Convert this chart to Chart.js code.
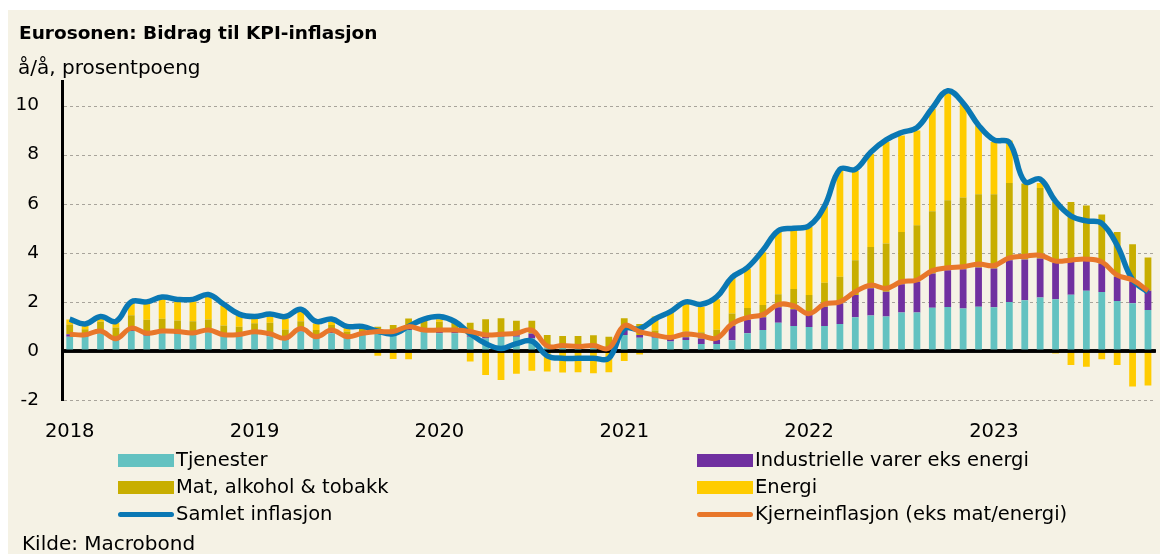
<!DOCTYPE html>
<html>
<head>
<meta charset="utf-8">
<script src="https://cdn.jsdelivr.net/npm/chart.js@4.4.1/dist/chart.umd.min.js"></script>
<style>
  html, body { margin:0; padding:0; background:#ffffff; }
  body { width:1160px; height:554px; position:relative; overflow:hidden; font-family:'DejaVu Sans',sans-serif; color:#000; }
  #bg { position:absolute; left:8px; top:10px; width:1152px; height:544px; background:#f5f2e5; }
  #c { position:absolute; left:0; top:0; }
  .t { position:absolute; white-space:nowrap; line-height:24px; }
  #title { left:19px; top:21px; font-size:18.5px; font-weight:700; }
  #sub { left:18px; top:55px; font-size:20px; }
  #src { left:22px; top:531px; font-size:20px; }
  .sw { position:absolute; width:56px; }
  .lg { position:absolute; font-size:19.5px; line-height:24px; white-space:nowrap; }
</style>
</head>
<body>
<div id="bg"></div>
<canvas id="c" width="1160" height="554"></canvas>
<div class="t" id="title">Eurosonen: Bidrag til KPI-inflasjon</div>
<div class="t" id="sub">å/å, prosentpoeng</div>
<div id="legend"></div>
<div class="t" id="src">Kilde: Macrobond</div>
<script>
// ---- data (monthly, Jan 2018 - Nov 2023) ----
const years = ['2018','2019','2020','2021','2022','2023'];
const tickLabels = ['2018','2019','2020','2021','2022','2023'];
const yTicks = [-2, 0, 2, 4, 6, 8, 10];

const tjenester = [
  0.58,0.58,0.72,0.45,0.81,0.62,0.72,0.69,0.65,0.76,0.60,0.61,
  0.69,0.60,0.45,0.79,0.51,0.72,0.51,0.65,0.72,0.72,0.85,0.85,
  0.72,0.72,0.58,0.51,0.58,0.58,0.51,0.15,0.20,0.15,0.18,0.10,
  0.65,0.54,0.54,0.38,0.45,0.28,0.28,0.43,0.72,0.85,1.15,1.02,
  0.98,1.02,1.10,1.37,1.44,1.40,1.57,1.57,1.76,1.79,1.73,1.80,
  1.78,1.99,2.07,2.18,2.11,2.29,2.45,2.40,2.03,1.94,1.67
];
const industri = [
  0.10,0.08,0.09,0.05,0.12,0.10,0.09,0.10,0.08,0.09,0.06,0.06,
  0.09,0.10,0.07,0.12,0.07,0.10,0.08,0.07,0.07,0.07,0.07,0.08,
  0.10,0.08,0.05,0.06,0.05,0.06,0.20,0.02,0.02,0.03,0.03,0.02,
  0.27,0.11,0.07,0.20,0.11,0.23,0.18,0.60,0.55,0.52,0.63,0.68,
  0.48,0.78,0.84,0.91,1.11,1.01,1.15,1.25,1.40,1.50,1.60,1.60,
  1.58,1.71,1.66,1.59,1.48,1.37,1.25,1.16,0.99,0.88,0.78
];
const mat = [
  0.40,0.22,0.38,0.45,0.52,0.55,0.50,0.45,0.48,0.43,0.38,0.32,
  0.35,0.45,0.35,0.30,0.27,0.24,0.20,0.20,0.20,0.27,0.40,0.30,
  0.37,0.35,0.52,0.72,0.70,0.59,0.52,0.48,0.39,0.43,0.43,0.46,
  0.41,0.45,0.22,0.07,0.23,0.25,0.40,0.50,0.48,0.50,0.53,0.82,
  0.82,0.98,1.08,1.42,1.69,1.97,2.13,2.30,2.53,2.85,2.92,2.98,
  3.02,3.14,3.09,2.87,2.48,2.41,2.23,2.00,1.83,1.53,1.36
];
const energi = [
  0.20,0.20,0.20,0.20,0.55,0.70,0.85,0.80,0.80,0.95,0.80,0.45,
  0.25,0.30,0.45,0.45,0.27,0.13,0.20,-0.07,-0.20,-0.33,-0.34,0.10,
  0.10,0.05,-0.43,-0.98,-1.18,-0.93,-0.81,-0.84,-0.88,-0.87,-0.91,-0.87,
  -0.41,-0.15,0.57,0.95,1.15,1.04,1.25,1.47,1.60,2.15,2.55,2.40,
  2.77,3.11,4.36,3.63,3.79,4.13,3.93,3.86,4.17,4.36,3.82,2.81,
  2.13,1.74,-0.07,0.20,-0.10,-0.57,-0.64,-0.34,-0.57,-1.45,-1.41
];
const samlet = [
  1.3,1.1,1.4,1.2,2.0,2.0,2.2,2.1,2.1,2.3,1.9,1.5,
  1.4,1.5,1.4,1.7,1.2,1.3,1.0,1.0,0.8,0.7,1.0,1.3,
  1.4,1.2,0.7,0.3,0.1,0.3,0.4,-0.2,-0.3,-0.3,-0.3,-0.3,
  0.9,0.9,1.3,1.6,2.0,1.9,2.2,3.0,3.4,4.1,4.9,5.0,
  5.1,5.9,7.4,7.4,8.1,8.6,8.9,9.1,9.9,10.6,10.1,9.2,
  8.6,8.5,6.9,7.0,6.1,5.5,5.3,5.2,4.3,2.9,2.4
];
const kjerne = [
  0.68,0.66,0.81,0.50,0.93,0.72,0.81,0.79,0.73,0.85,0.66,0.67,
  0.78,0.70,0.52,0.91,0.58,0.85,0.58,0.72,0.79,0.79,0.99,0.85,
  0.85,0.85,0.79,0.65,0.68,0.72,0.85,0.20,0.22,0.18,0.22,0.11,
  1.03,0.79,0.65,0.55,0.69,0.62,0.52,1.10,1.36,1.48,1.89,1.84,
  1.52,1.91,2.00,2.41,2.68,2.55,2.82,2.89,3.27,3.39,3.43,3.54,
  3.48,3.79,3.86,3.90,3.66,3.70,3.74,3.63,3.09,2.89,2.45
];

// month categories
const months = [];
for (const y of years) for (let m = 1; m <= 12; m++) months.push(y + '-' + String(m).padStart(2,'0'));
const labels = months.slice(0, tjenester.length);

const C = {
  teal:'#63c2c1', purple:'#7030a0', olive:'#c8ae00', yellow:'#ffcc00',
  blue:'#0a78b4', orange:'#e8772a'
};
const FONT = 'DejaVu Sans';

// legend (HTML)
const legendItems = [
  {text:'Tjenester', color:C.teal, kind:'box', col:0, row:0},
  {text:'Industrielle varer eks energi', color:C.purple, kind:'box', col:1, row:0},
  {text:'Mat, alkohol & tobakk', color:C.olive, kind:'box', col:0, row:1},
  {text:'Energi', color:C.yellow, kind:'box', col:1, row:1},
  {text:'Samlet inflasjon', color:C.blue, kind:'line', col:0, row:2},
  {text:'Kjerneinflasjon (eks mat/energi)', color:C.orange, kind:'line', col:1, row:2}
];
const lg = document.getElementById('legend');
const colX = [118, 697], rowY = [460, 487, 514];
legendItems.forEach(it => {
  const sw = document.createElement('div');
  sw.className = 'sw';
  const h = it.kind === 'box' ? 13 : 5;
  sw.style.left = colX[it.col] + 'px';
  sw.style.top = (rowY[it.row] - h/2) + 'px';
  sw.style.height = h + 'px';
  sw.style.background = it.color;
  if (it.kind === 'line') sw.style.borderRadius = '3px';
  lg.appendChild(sw);
  const tx = document.createElement('div');
  tx.className = 'lg';
  tx.textContent = it.text;
  tx.style.left = (colX[it.col] + 58) + 'px';
  tx.style.top = (rowY[it.row] - 12) + 'px';
  lg.appendChild(tx);
});

// dashed horizontal grid lines at the y ticks
const dashedGrid = {
  id:'dashedGrid',
  beforeDatasetsDraw(chart) {
    const {ctx, chartArea, scales:{y}} = chart;
    ctx.save();
    ctx.strokeStyle = '#a8a49b';
    ctx.lineWidth = 1;
    ctx.setLineDash([3,3]);
    yTicks.forEach(v => {
      if (v === 0) return;
      const py = Math.round(y.getPixelForValue(v)) + 0.5;
      ctx.beginPath();
      ctx.moveTo(chartArea.left + 2, py);
      ctx.lineTo(chartArea.right, py);
      ctx.stroke();
    });
    ctx.restore();
  }
};
// solid zero line over the bars
const zeroLine = {
  id:'zeroLine',
  afterDatasetDraw(chart, args) {
    if (args.meta.type !== 'bar') return;
    const {ctx, chartArea, scales:{y}} = chart;
    const py = y.getPixelForValue(0);
    ctx.save();
    ctx.strokeStyle = '#000';
    ctx.lineWidth = 3;
    ctx.beginPath();
    ctx.moveTo(chartArea.left, py);
    ctx.lineTo(chartArea.right, py);
    ctx.stroke();
    ctx.restore();
  }
};

const barCommon = {type:'bar', stack:'bars', order:2, barPercentage:0.44, categoryPercentage:1.0, borderWidth:0};
new Chart(document.getElementById('c'), {
  data: {
    labels,
    datasets: [
      {...barCommon, label:'Tjenester', data:tjenester, backgroundColor:C.teal},
      {...barCommon, label:'Industrielle varer eks energi', data:industri, backgroundColor:C.purple},
      {...barCommon, label:'Mat, alkohol & tobakk', data:mat, backgroundColor:C.olive},
      {...barCommon, label:'Energi', data:energi, backgroundColor:C.yellow},
      {type:'line', label:'Samlet inflasjon', data:samlet, stack:'s1', order:1, borderColor:C.blue, backgroundColor:C.blue, borderWidth:5.5, pointRadius:0, tension:0.4, fill:false},
      {type:'line', label:'Kjerneinflasjon (eks mat/energi)', data:kjerne, stack:'s2', order:0, borderColor:C.orange, backgroundColor:C.orange, borderWidth:5, pointRadius:0, tension:0.4, fill:false}
    ]
  },
  options: {
    responsive:false,
    animation:false,
    devicePixelRatio:1,
    layout:{padding:{left:0, right:2, top:81, bottom:94}},
    plugins:{legend:{display:false}, tooltip:{enabled:false}},
    scales:{
      x:{
        stacked:true,
        grid:{display:false},
        border:{display:false},
        ticks:{
          autoSkip:false, maxRotation:0, minRotation:0, padding:12,
          color:'#000', font:{family:FONT, size:19.5},
          callback:function(v, i){ const l = labels[i]; return l.endsWith('-01') ? tickLabels[years.indexOf(l.slice(0,4))] : ''; }
        },
        afterFit(s){ s.height = 60; }
      },
      y:{
        stacked:true,
        min:-2, max:11,
        afterBuildTicks(s){ s.ticks = yTicks.map(v => ({value:v})); },
        grid:{display:false},
        border:{display:true, color:'#000', width:3},
        ticks:{padding:15, color:'#000', font:{family:FONT, size:18.5}},
        afterFit(s){ s.width = 62; }
      }
    }
  },
  plugins:[dashedGrid, zeroLine]
});
</script>
</body>
</html>
